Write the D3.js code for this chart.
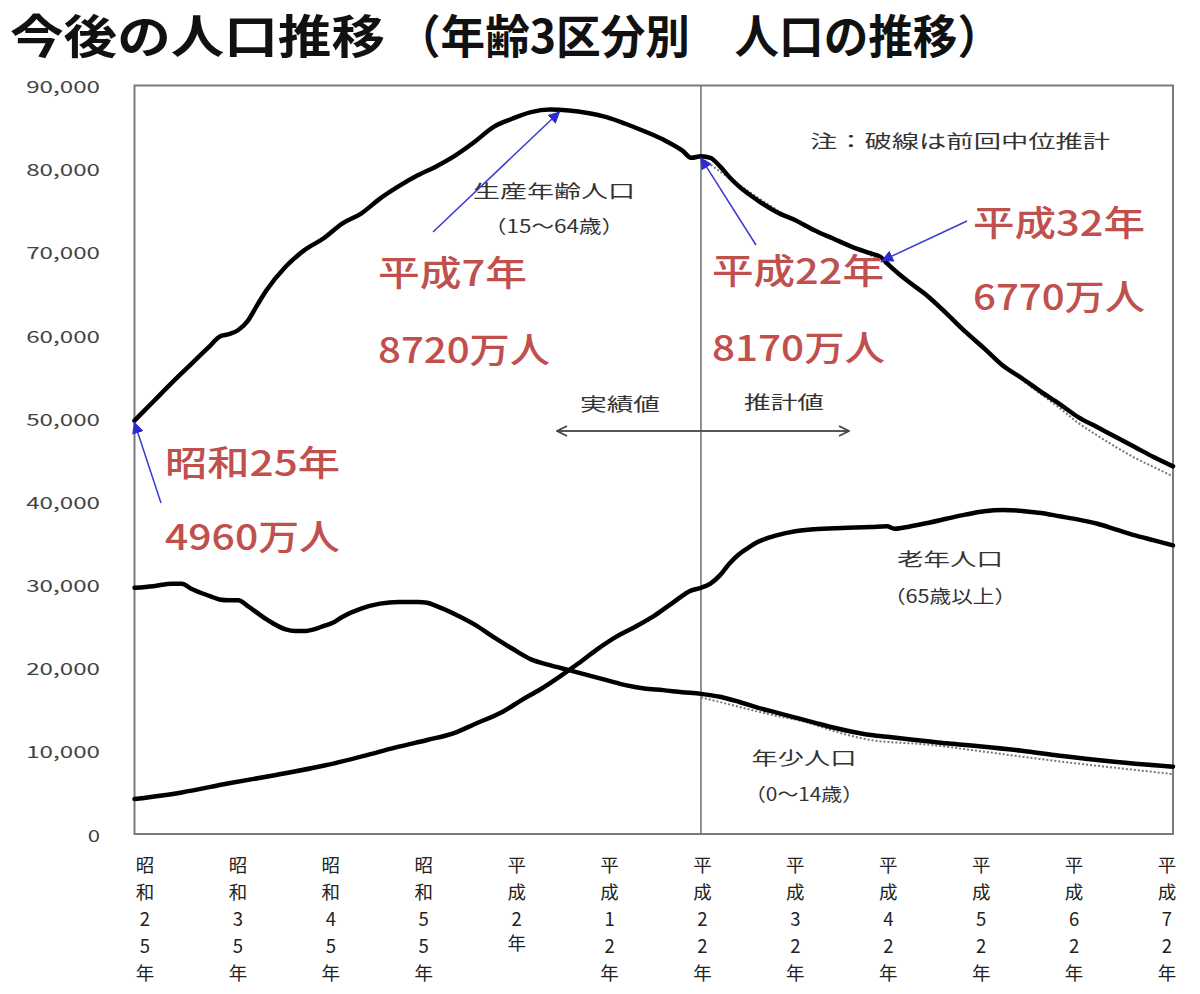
<!DOCTYPE html>
<html><head><meta charset="utf-8">
<script src="https://cdn.jsdelivr.net/npm/d3@7"></script>
<style>body{margin:0;background:#fff}svg{display:block}</style>
</head><body><svg id="c" width="1200" height="994"></svg>
<script>
// ---------- DATA ----------
const titleParts = ["今後の人口推移", "（年齢3区分別　人口の推移）"];
const yTickValues = [0,10000,20000,30000,40000,50000,60000,70000,80000,90000];
const tickYears = [1950,1960,1970,1980,1990,2000,2010,2020,2030,2040,2050,2060];
const tickLabels = [
  ["昭","和","2","5","年"],["昭","和","3","5","年"],["昭","和","4","5","年"],["昭","和","5","5","年"],
  ["平","成","2","年"],["平","成","1","2","年"],["平","成","2","2","年"],["平","成","3","2","年"],
  ["平","成","4","2","年"],["平","成","5","2","年"],["平","成","6","2","年"],["平","成","7","2","年"]
];
// 生産年齢人口 (15~64歳), 千人
const prodYears = [1950,1952,1954,1956,1958,1959,1960,1961,1962,1963,1964,1966,1968,1970,1972,1974,1976,1978,1980,1982,1984,1986,1988,1990,1992,1994,1996,1998,2000,2002,2004,2006,2008,2009,2010,2011,2012,2013,2014,2016,2018,2020,2022,2024,2026,2028,2029,2030,2031,2032,2034,2036,2038,2040,2042,2044,2046,2048,2050,2052,2054,2056,2058,2060];
const prodValues = [49700,52000,54300,56500,58700,59800,60100,60600,61700,63600,65400,68200,70200,71600,73400,74600,76400,77900,79200,80300,81600,83200,85000,86000,86800,87100,87000,86700,86200,85400,84500,83500,82200,81300,81500,81300,80300,79000,77900,76200,74800,73800,72600,71600,70600,69800,69400,68300,67300,66400,64700,62600,60400,58400,56300,54800,53200,51700,50100,48900,47700,46500,45300,44200];
// 前回中位推計 (破線)
const prodPrevYears = [2010,2020,2030,2040,2044,2046,2048,2050,2052,2054,2056,2058,2060];
const prodPrevValues = [81300,73700,68200,58300,54600,52900,51200,49400,47900,46500,45200,44100,43000];
// 年少人口 (0~14歳)
const childYears = [1950,1952,1954,1955,1956,1958,1959,1960,1961,1962,1964,1966,1967,1968,1969,1970,1971,1972,1974,1976,1978,1980,1981,1982,1984,1986,1988,1990,1992,1994,1996,1998,2000,2002,2004,2006,2008,2010,2012,2014,2016,2018,2020,2022,2024,2026,2028,2030,2032,2034,2036,2038,2040,2044,2048,2052,2056,2060];
const childValues = [29600,29800,30100,30100,29500,28600,28200,28100,28100,27400,25800,24600,24400,24400,24600,25000,25400,26100,27100,27700,27900,27900,27800,27400,26400,25200,23700,22300,21000,20300,19700,19100,18500,17900,17500,17300,17050,16850,16500,15900,15200,14600,14000,13400,12800,12300,11900,11650,11400,11150,10900,10700,10500,10000,9400,8900,8450,8100];
const childPrevYears = [2010,2014,2018,2021,2024,2028,2034,2040,2046,2052,2056,2060];
const childPrevValues = [16450,15300,14200,13500,12400,11300,10750,9900,9000,8200,7700,7200];
// 老年人口 (65歳以上)
const oldYears = [1950,1955,1960,1965,1970,1975,1978,1981,1984,1986,1989,1991,1993,1995,1997,1999,2001,2003,2005,2007,2009,2010,2011,2012,2013,2014,2015,2016,2018,2020,2022,2025,2028,2029.7,2030.5,2031.5,2034,2036,2038,2040,2042,2044,2046,2048,2050,2052,2054,2056,2058,2060];
const oldValues = [4200,5000,6100,7100,8200,9600,10500,11300,12200,13200,14700,16100,17400,18900,20500,22200,23700,24900,26200,27800,29300,29600,30100,31100,32500,33600,34400,35100,35900,36400,36650,36800,36900,37000,36700,36850,37400,37900,38400,38800,38950,38850,38600,38200,37800,37300,36600,35900,35300,34700];

const callouts = [
  {lines:["昭和25年","4960万人"], year:1950},
  {lines:["平成7年","8720万人"], year:1995},
  {lines:["平成22年","8170万人"], year:2010},
  {lines:["平成32年","6770万人"], year:2029.2}
];
const seriesLabels = [["生産年齢人口","（15～64歳）"],["老年人口","（65歳以上）"],["年少人口","（0～14歳）"]];
const noteText = "注：破線は前回中位推計";
const periodLabels = ["実績値","推計値"];

// ---------- LAYOUT ----------
const svg = d3.select("#c");
const L = 134.5, R = 1173, T = 85.5, B = 834;
const x = d3.scaleLinear().domain([1950,2060]).range([L,R]);
const y = d3.scaleLinear().domain([0,90000]).range([B,T]);
const xLab = d3.scalePoint().domain(tickYears).range([145,1167]);
const JP = "'Noto Sans CJK JP','Noto Sans',sans-serif";

// title
[[10,375],[396,606]].forEach((p,i)=>{
  svg.append("text").text(titleParts[i])
    .attr("x",p[0]).attr("y",33).attr("dominant-baseline","central")
    .attr("font-family",JP).attr("font-weight",700).attr("font-size",46)
    .attr("textLength",p[1]).attr("lengthAdjust","spacingAndGlyphs").attr("fill","#111");
});

// y tick labels
svg.append("g").selectAll("text").data(yTickValues).join("text")
  .text(d=>d3.format(",")(d))
  .attr("x",100).attr("y",d=>y(d)).attr("text-anchor","end").attr("dominant-baseline","central")
  .attr("font-family",JP).attr("font-size",17).attr("fill","#444")
  .attr("textLength",d=>d3.format(",")(d).length*12.3).attr("lengthAdjust","spacingAndGlyphs");

// x tick labels (vertical, one character per row)
const rowY = [864,891,918,945,972];
const xg = svg.append("g");
tickYears.forEach((d,i)=>{
  tickLabels[i].forEach((c,j)=>{
    const yy = (c==="年" && j===3) ? 942 : rowY[j];
    xg.append("text").text(c).attr("x",xLab(d)).attr("y",yy)
      .attr("text-anchor","middle").attr("dominant-baseline","central")
      .attr("font-family",JP).attr("font-size",18.5).attr("fill","#222");
  });
});

// frame
svg.append("rect").attr("x",L).attr("y",T).attr("width",R-L).attr("height",B-T)
  .attr("fill","none").attr("stroke","#7a7a7a").attr("stroke-width",2);
// divider at 2010
svg.append("line").attr("x1",x(2010)).attr("x2",x(2010)).attr("y1",T).attr("y2",B)
  .attr("stroke","#6e6e6e").attr("stroke-width",1.5);

// markers
const defs = svg.append("defs");
defs.append("marker").attr("id","chev").attr("viewBox","0 0 12 12").attr("refX",11).attr("refY",6)
  .attr("markerWidth",12).attr("markerHeight",12).attr("markerUnits","userSpaceOnUse").attr("orient","auto-start-reverse")
  .append("path").attr("d","M1,1 L11,6 L1,11").attr("fill","none").attr("stroke","#444").attr("stroke-width",1.8);
defs.append("marker").attr("id","tri").attr("viewBox","0 0 10 10").attr("refX",9).attr("refY",5)
  .attr("markerWidth",12).attr("markerHeight",12).attr("markerUnits","userSpaceOnUse").attr("orient","auto")
  .append("path").attr("d","M0,0 L10,5 L0,10 Z").attr("fill","#2b2bd0");
// double arrow (実績値 / 推計値)
svg.append("line").attr("x1",557).attr("x2",849).attr("y1",431).attr("y2",431)
  .attr("stroke","#555").attr("stroke-width",2)
  .attr("marker-start","url(#chev)").attr("marker-end","url(#chev)");

// lines
const line = d3.line().x(d=>x(d[0])).y(d=>y(d[1])).curve(d3.curveMonotoneX);
const zip = (a,b)=>a.map((v,i)=>[v,b[i]]);
const dotted = [zip(prodPrevYears,prodPrevValues), zip(childPrevYears,childPrevValues)];
svg.append("g").selectAll("path").data(dotted).join("path")
  .attr("d",line).attr("fill","none").attr("stroke","#777").attr("stroke-width",2).attr("stroke-dasharray","2,2");
const solid = [zip(prodYears,prodValues), zip(childYears,childValues), zip(oldYears,oldValues)];
svg.append("g").selectAll("path").data(solid).join("path")
  .attr("d",line).attr("fill","none").attr("stroke","#000").attr("stroke-width",4.5)
  .attr("stroke-linejoin","round").attr("stroke-linecap","round");

// series labels
const slPos = [[554,190,162,225,140],[950,558,106,595,132],[804,757,105,793,118]];
seriesLabels.forEach((s,i)=>{
  const p = slPos[i];
  svg.append("text").text(s[0]).attr("x",p[0]).attr("y",p[1]).attr("text-anchor","middle").attr("dominant-baseline","central")
    .attr("font-family",JP).attr("font-size",18).attr("fill","#333").attr("textLength",p[2]).attr("lengthAdjust","spacingAndGlyphs");
  svg.append("text").text(s[1]).attr("x",p[0]).attr("y",p[3]).attr("text-anchor","middle").attr("dominant-baseline","central")
    .attr("font-family",JP).attr("font-size",18).attr("fill","#333").attr("textLength",p[4]).attr("lengthAdjust","spacingAndGlyphs");
});
// note & period labels
svg.append("text").text(noteText).attr("x",810).attr("y",140).attr("dominant-baseline","central")
  .attr("font-family",JP).attr("font-size",18).attr("fill","#333").attr("textLength",300).attr("lengthAdjust","spacingAndGlyphs");
[[620,403],[784,401]].forEach((p,i)=>{
  svg.append("text").text(periodLabels[i]).attr("x",p[0]).attr("y",p[1]).attr("text-anchor","middle").attr("dominant-baseline","central")
    .attr("font-family",JP).attr("font-size",18).attr("fill","#333").attr("textLength",80).attr("lengthAdjust","spacingAndGlyphs");
});

// callouts
const interp = (ys,vs,yr)=>{ for(let i=0;i<ys.length-1;i++){ if(yr>=ys[i]&&yr<=ys[i+1]){const t=(yr-ys[i])/(ys[i+1]-ys[i]);return vs[i]+t*(vs[i+1]-vs[i]);} } return vs[vs.length-1]; };
const coPos = [ // text x, line1 y, line2 y, widths, arrow tail
  {tx:165,y1:460,y2:534,w:[175,175],tail:[161,503]},
  {tx:378,y1:270,y2:347,w:[149,172],tail:[433,232]},
  {tx:712,y1:268,y2:345,w:[172,173],tail:[756,245]},
  {tx:973,y1:220,y2:294,w:[172,172],tail:[967,221]}
];
callouts.forEach((c,i)=>{
  const p = coPos[i];
  [p.y1,p.y2].forEach((yy,j)=>{
    svg.append("text").text(c.lines[j]).attr("x",p.tx).attr("y",yy).attr("dominant-baseline","central")
      .attr("font-family",JP).attr("font-size",35).attr("font-weight",500).attr("fill","#c0504d")
      .attr("textLength",p.w[j]).attr("lengthAdjust","spacingAndGlyphs");
  });
  const hx = x(c.year), hy = y(interp(prodYears,prodValues,c.year));
  svg.append("line").attr("x1",p.tail[0]).attr("y1",p.tail[1]).attr("x2",hx).attr("y2",hy+2)
    .attr("stroke","#3a3ad0").attr("stroke-width",1.5).attr("marker-end","url(#tri)");
});
</script></body></html>
